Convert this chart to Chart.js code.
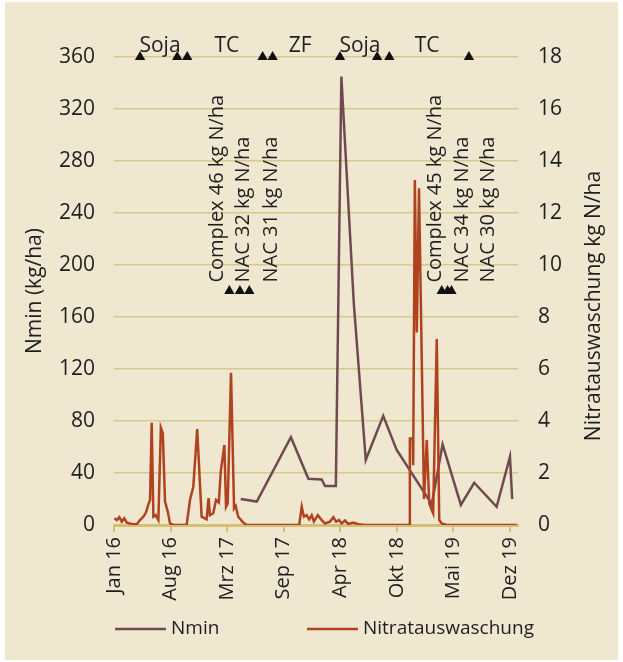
<!DOCTYPE html>
<html>
<head>
<meta charset="utf-8">
<script src="https://cdn.jsdelivr.net/npm/chart.js@4.4.1/dist/chart.umd.min.js"></script>
<style>
  html, body { margin: 0; padding: 0; background: #fff; }
  #wrap { position: relative; width: 623px; height: 662px; }
</style>
</head>
<body>
<div id="wrap"><canvas id="chart"></canvas></div>
<script>
// x values are days counted from the first tick (Jan 16); ticks every 204 days
const tickDays = [0, 204, 408, 612, 816, 1020, 1224, 1428];
const tickLabels = ["Jan 16", "Aug 16", "Mrz 17", "Sep 17", "Apr 18", "Okt 18", "Mai 19", "Dez 19"];

// Nmin (kg/ha), left axis
const nminDays = [457, 515, 638, 701, 749, 761, 800, 820, 865, 908, 971, 1019, 1146, 1185, 1251, 1299, 1380, 1428, 1436];
const nminValues = [20, 18, 67.5, 35.5, 35, 30, 30, 345, 170, 50, 84, 58, 16, 62, 15.5, 32.5, 14, 52.5, 20];

// Nitratauswaschung (kg N/ha), right axis
const leachDays = [1, 10, 19, 28, 37, 46, 64, 82, 94, 106, 115, 125, 130, 136, 142, 150, 160, 169, 176, 184,
  194, 202, 214, 262, 274, 286, 300, 316, 334, 341, 346, 358, 368, 378, 385, 398, 404, 410, 422, 433,
  439, 448, 466, 479, 668, 677, 685, 695, 704, 713, 721, 735, 749, 761, 779, 791, 801, 812, 821, 833,
  845, 863, 881, 905, 1066, 1067, 1077, 1079, 1085, 1092, 1100, 1118, 1128, 1137, 1146, 1151, 1164, 1173, 1182, 1200,
  1453];
const leachValues = [0.26, 0.19, 0.3, 0.13, 0.26, 0.09, 0.04, 0.03, 0.19, 0.32, 0.47, 0.83, 0.96, 3.93, 0.32, 0.38, 0.19, 3.74, 3.53, 0.9,
  0.51, 0.06, 0, 0, 0.96, 1.47, 3.69, 0.32, 0.22, 1.03, 0.38, 0.45, 0.96, 0.86, 2.05, 3.08, 0.7, 0.83, 5.85, 0.64,
  0.73, 0.32, 0.09, 0, 0, 0.7, 0.32, 0.38, 0.22, 0.38, 0.13, 0.38, 0.19, 0.06, 0.13, 0.3, 0.13, 0.19, 0.06, 0.17,
  0.04, 0.09, 0.03, 0, 0, 3.33, 3.33, 2.3, 13.27, 7.4, 12.95, 1.0, 3.27, 0.83, 0.58, 0.45, 7.15, 0.19, 0.06, 0,
  0];

// sowing / harvest events on the 360 line, with crop names above
const cropEventDays = [94, 228, 264, 536, 572, 815, 949, 993, 1280];
const cropEventLevel = 360;
const cropNames = ["Soja", "TC", "ZF", "Soja", "TC"];
const cropNameDays = [166, 407, 671, 887, 1129];

// fertilisation events
const fertDays = [416, 454, 488, 1182, 1203, 1217];
const fertLevel = 180;
const fertLabels = ["Complex 46 kg N/ha", "NAC 32 kg N/ha", "NAC 31 kg N/ha",
  "Complex 45 kg N/ha", "NAC 34 kg N/ha", "NAC 30 kg N/ha"];
const fertLabelDays = [371, 465, 566, 1158, 1255, 1349];
const fertLabelBase = 186.5;

const NMIN_COLOR = "#6f4b51";
const LEACH_COLOR = "#b0421f";
const TEXT = "#1e1e1e";
const GRID = "#d8c98f";
const GOLD = "#d4bf73";
const PANEL = "#f0e7d1";
const FONT = "'Open Sans', 'Noto Sans', sans-serif";

Chart.defaults.font.family = FONT;
Chart.defaults.color = TEXT;

const zip = (xs, ys) => xs.map((x, i) => ({ x, y: ys[i] }));

const panelBackground = {
  id: "panelBackground",
  beforeDraw(chart) {
    const { ctx, width, height } = chart;
    ctx.save();
    ctx.fillStyle = "#fff";
    ctx.fillRect(0, 0, width, height);
    ctx.fillStyle = PANEL;
    ctx.fillRect(5, 2, width - 10, height - 4);
    ctx.restore();
  },
};

const annotations = {
  id: "annotations",
  afterDraw(chart) {
    const { ctx, chartArea } = chart;
    const x = chart.scales.x;
    const y = chart.scales.y;
    ctx.save();
    ctx.fillStyle = TEXT;

    // crop names
    ctx.font = "21px " + FONT;
    ctx.textAlign = "center";
    ctx.textBaseline = "middle";
    cropNames.forEach((name, i) => {
      ctx.fillText(name, x.getPixelForValue(cropNameDays[i]), chartArea.top - 11);
    });

    // fertiliser labels, vertical
    ctx.font = "20px " + FONT;
    ctx.textAlign = "left";
    fertLabels.forEach((txt, i) => {
      ctx.save();
      ctx.translate(x.getPixelForValue(fertLabelDays[i]), y.getPixelForValue(fertLabelBase));
      ctx.rotate(-Math.PI / 2);
      ctx.fillText(txt, 0, 0);
      ctx.restore();
    });

    // axis titles
    ctx.font = "21px " + FONT;
    ctx.textAlign = "center";
    ctx.save();
    ctx.translate(35, (chartArea.top + chartArea.bottom) / 2);
    ctx.rotate(-Math.PI / 2);
    ctx.fillText("Nmin (kg/ha)", 0, 0);
    ctx.restore();
    ctx.save();
    ctx.translate(594, 306);
    ctx.rotate(-Math.PI / 2);
    ctx.fillText("Nitratauswaschung kg N/ha", 0, 0);
    ctx.restore();

    // legend
    const items = [
      { ds: chart.data.datasets[0], x0: 115 },
      { ds: chart.data.datasets[1], x0: 307 },
    ];
    ctx.font = "19px " + FONT;
    ctx.textAlign = "left";
    items.forEach(({ ds, x0 }) => {
      ctx.strokeStyle = ds.borderColor;
      ctx.lineWidth = 2.5;
      ctx.beginPath();
      ctx.moveTo(x0, 629);
      ctx.lineTo(x0 + 51, 629);
      ctx.stroke();
      ctx.fillText(ds.label, x0 + 56, 629);
    });
    ctx.restore();
  },
};

new Chart(document.getElementById("chart"), {
  type: "line",
  data: {
    datasets: [
      {
        label: "Nmin",
        data: zip(nminDays, nminValues),
        yAxisID: "y",
        borderColor: NMIN_COLOR,
        borderWidth: 2.5,
        pointRadius: 0,
        order: 2,
      },
      {
        label: "Nitratauswaschung",
        data: zip(leachDays, leachValues),
        yAxisID: "y2",
        borderColor: LEACH_COLOR,
        borderWidth: 2.5,
        pointRadius: 0,
        order: 1,
      },
      {
        label: "Kultur",
        data: cropEventDays.map((d) => ({ x: d, y: cropEventLevel })),
        yAxisID: "y",
        showLine: false,
        pointStyle: "triangle",
        pointRadius: 6,
        backgroundColor: "#111",
        borderColor: "#111",
        borderWidth: 0,
        clip: false,
        order: 0,
      },
      {
        label: "Düngung",
        data: fertDays.map((d) => ({ x: d, y: fertLevel })),
        yAxisID: "y",
        showLine: false,
        pointStyle: "triangle",
        pointRadius: 6,
        backgroundColor: "#111",
        borderColor: "#111",
        borderWidth: 0,
        clip: false,
        order: 0,
      },
    ],
  },
  options: {
    responsive: true,
    maintainAspectRatio: false,
    animation: false,
    layout: { padding: { top: 57, left: 0, right: 0, bottom: 0 } },
    plugins: {
      legend: { display: false },
      tooltip: { enabled: false },
    },
    scales: {
      x: {
        type: "linear",
        min: 0,
        max: 1457,
        afterBuildTicks: (s) => {
          s.ticks = tickDays.map((v) => ({ value: v }));
        },
        afterFit: (s) => {
          s.height = 137;
        },
        grid: { drawOnChartArea: false, drawTicks: true, tickLength: 7, color: GOLD, lineWidth: 2 },
        border: { display: true, color: GOLD, width: 3 },
        ticks: {
          autoSkip: false,
          minRotation: 90,
          maxRotation: 90,
          padding: 5,
          color: TEXT,
          font: { size: 20 },
          callback: (v) => tickLabels[tickDays.indexOf(v)],
        },
      },
      y: {
        position: "left",
        min: 0,
        max: 360,
        afterFit: (s) => {
          s.width = 114;
        },
        grid: { color: GRID, lineWidth: 1.5, drawTicks: false },
        border: { display: false },
        ticks: { stepSize: 40, padding: 19, color: TEXT, font: { size: 21 } },
      },
      y2: {
        position: "right",
        min: 0,
        max: 18,
        afterFit: (s) => {
          s.width = 105;
        },
        grid: { display: false, drawTicks: false },
        border: { display: false },
        ticks: { stepSize: 2, padding: 20, color: TEXT, font: { size: 21 } },
      },
    },
  },
  plugins: [panelBackground, annotations],
});
</script>
</body>
</html>
